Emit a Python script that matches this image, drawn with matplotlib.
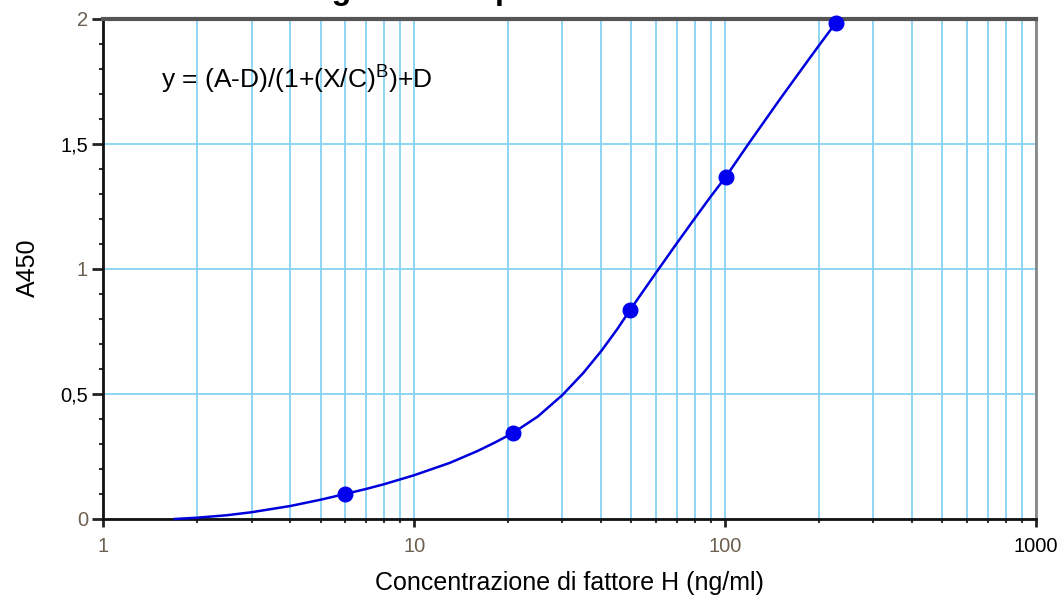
import numpy as np
import matplotlib
matplotlib.use("Agg")
import matplotlib.pyplot as plt
from matplotlib.ticker import FixedLocator, LogLocator, NullFormatter

plt.rcParams['font.family'] = ['Liberation Sans', 'DejaVu Sans']
plt.rcParams['mathtext.fontset'] = 'custom'
plt.rcParams['mathtext.rm'] = 'Liberation Sans'

# standards (concentration, A450)
conc = [6.0, 20.8, 49.5, 100.5, 227.0]
a450 = [0.100, 0.344, 0.836, 1.368, 1.984]

# fitted curve
curve_x = [1.7, 2, 2.5, 3, 4, 5, 6, 7, 8, 10, 13, 16, 18.2, 20.8, 25, 30, 35, 40,
           45, 49.5, 60, 70, 80, 90, 100.5, 120, 150, 180, 200, 227]
curve_y = [0.0, 0.005, 0.015, 0.027, 0.052, 0.077, 0.100, 0.120, 0.139, 0.175,
           0.224, 0.272, 0.306, 0.344, 0.410, 0.496, 0.584, 0.672, 0.759, 0.836,
           0.985, 1.103, 1.203, 1.290, 1.368, 1.507, 1.678, 1.814, 1.892, 1.984]

yticks = [0, 0.5, 1, 1.5, 2]
ylabels = ['0', '0,5', '1', '1,5', '2']
xticks = [1, 10, 100, 1000]
xlabels = ['1', '10', '100', '1000']

fig = plt.figure(figsize=(10.57, 5.99), dpi=100)
ax = fig.add_axes([0.0977, 0.1336, 0.8823, 0.8347])

grid_col = '#86d3f2'
ax.set_xscale('log')
ax.set_xlim(1, 1000)
ax.set_ylim(0, 2)

ax.xaxis.set_major_locator(FixedLocator(xticks))
ax.set_xticklabels(xlabels)
ax.xaxis.set_minor_locator(LogLocator(base=10, subs=np.arange(2, 10)))
ax.xaxis.set_minor_formatter(NullFormatter())
ax.set_yticks(yticks)
ax.set_yticklabels(ylabels)
ax.yaxis.set_minor_locator(FixedLocator(np.arange(0, 2.01, 0.1)))

ax.grid(True, which='both', axis='x', color=grid_col, lw=1.3)
ax.grid(True, which='major', axis='y', color=grid_col, lw=1.3)
ax.set_axisbelow(True)

ax.tick_params(axis='both', which='major', direction='out', width=2, labelsize=14.5,
               color='#222222')
ax.tick_params(axis='x', which='major', length=6, pad=7)
ax.tick_params(axis='y', which='major', length=8, pad=3)
ax.tick_params(axis='both', which='minor', direction='out', width=1.5, length=3.2,
               color='#333333')
for lab in ax.get_yticklabels():
    if lab.get_text() in ('0', '1', '2'):
        lab.set_color('#6e6050')
for lab in ax.get_xticklabels():
    if lab.get_text() in ('1', '10', '100'):
        lab.set_color('#6e6050')

ax.spines['left'].set_linewidth(2)
ax.spines['left'].set_color('#111111')
ax.spines['bottom'].set_linewidth(2)
ax.spines['bottom'].set_color('#111111')
ax.spines['top'].set_linewidth(3)
ax.spines['top'].set_color('#555555')
ax.spines['right'].set_linewidth(2)
ax.spines['right'].set_color('#888888')

ax.plot(curve_x, curve_y, color='#0000dd', lw=1.8, clip_on=False, zorder=3)
ax.plot(conc, a450, 'o', color='#0000ee', ms=10.5, clip_on=False, zorder=4)

ax.text(0.062, 0.880, 'y = (A-D)/(1+(X/C)$^{\\mathrm{B}}$)+D', transform=ax.transAxes,
        fontsize=19, va='center', ha='left')

fig.text(28 / 1057, 1 - 268 / 599, 'A450', fontsize=18, rotation=90,
         ha='center', va='center')
fig.text(569 / 1057, 1 - 583 / 599, 'Concentrazione di fattore H (ng/ml)',
         fontsize=18, ha='center', va='center')

# title mostly outside the picture, only descenders show
fig.text(0.193, 1.001, 'Curva logistica a 4 parametri', fontsize=23, fontweight='bold',
         ha='left', va='baseline')

fig.savefig('out.png', dpi=100)
